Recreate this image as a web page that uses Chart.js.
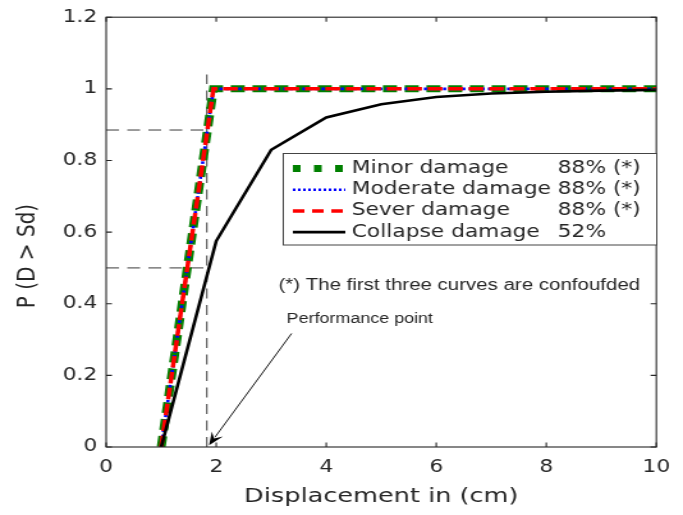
<!DOCTYPE html>
<html>
<head>
<meta charset="utf-8">
<script src="https://cdn.jsdelivr.net/npm/chart.js@4.4.0/dist/chart.umd.min.js"></script>
<style>
  html, body { margin: 0; padding: 0; background: #fff; overflow: hidden; }
  /* the figure is drawn narrow and widened, like the exported plot */
  #wrap { width: 534px; height: 515px; transform: scaleX(1.279); transform-origin: 0 0; }
</style>
</head>
<body>
<div id="wrap"><canvas id="fragility"></canvas></div>
<script>
// fragility curves: probability of exceeding each damage state vs displacement
const damageX = [1, 1.95, 10];
const minorP = [0, 1, 1];
const moderateP = [0, 1, 1];
const severP = [0, 1, 1];
const collapseX = [1, 2, 3, 4, 5, 6, 7, 8, 9, 10];
const collapseP = [0, 0.575, 0.83, 0.92, 0.957, 0.977, 0.987, 0.992, 0.995, 0.997];

// performance point read-off lines
const perfPoint = 1.83;
const perfLevels = [0.885, 0.5];
const perfTop = 1.04;

const legendNames = ['Minor damage', 'Moderate damage', 'Sever damage', 'Collapse damage'];
const legendValues = ['88% (*)', '88% (*)', '88% (*)', '52%'];

const xTicks = [0, 2, 4, 6, 8, 10];
const yTicks = [0, 0.2, 0.4, 0.6, 0.8, 1, 1.2];
const xLabel = 'Displacement in (cm)';
const yLabel = 'P (D > Sd)';
const noteText = '(*) The first three curves are confoufded';
const arrowText = 'Performance point';
const arrowFrom = { x: 3.37, y: 0.317 };
const arrowTo = { x: 1.87, y: 0.005 };

const axisColor = '#262626';

function pts(xs, ys) {
  return xs.map((x, i) => ({ x: x, y: ys[i] }));
}

const guideStyle = {
  borderColor: '#3a3a3a',
  borderWidth: 1,
  borderDash: [10, 6.5],
  pointRadius: 0,
  order: 5
};

const datasets = [
  { label: legendNames[0], data: pts(damageX, minorP), borderColor: '#008000', borderWidth: 7,
    borderDash: [11, 6], legendDash: [6, 10.5], pointRadius: 0, order: 4 },
  { label: legendNames[1], data: pts(damageX, moderateP), borderColor: '#0000ff', borderWidth: 2.6,
    borderDash: [2.5, 2.5], legendDash: [2, 2], pointRadius: 0, order: 3 },
  { label: legendNames[2], data: pts(damageX, severP), borderColor: '#ff0000', borderWidth: 3.5,
    borderDash: [11.5, 4.5], legendDash: [9, 6], pointRadius: 0, order: 2 },
  { label: legendNames[3], data: pts(collapseX, collapseP), borderColor: '#000000', borderWidth: 2.6,
    borderDash: [], pointRadius: 0, order: 1 },
  Object.assign({ label: 'guide1', data: [{ x: 0, y: perfLevels[0] }, { x: perfPoint, y: perfLevels[0] }] }, guideStyle),
  Object.assign({ label: 'guide2', data: [{ x: 0, y: perfLevels[1] }, { x: perfPoint, y: perfLevels[1] }] }, guideStyle),
  Object.assign({ label: 'guide3', data: [{ x: perfPoint, y: 0 }, { x: perfPoint, y: perfTop }] }, guideStyle)
];

// box around the axes with inward ticks on all four sides, plus the y title
const framePlugin = {
  id: 'frame',
  afterDatasetsDraw(chart) {
    const { ctx, chartArea: a, scales } = chart;
    const len = 4.5;
    ctx.save();
    ctx.strokeStyle = axisColor;
    ctx.lineWidth = 1.1;
    ctx.strokeRect(a.left, a.top, a.right - a.left, a.bottom - a.top);
    ctx.beginPath();
    xTicks.forEach(v => {
      const px = scales.x.getPixelForValue(v);
      ctx.moveTo(px, a.bottom); ctx.lineTo(px, a.bottom - len);
      ctx.moveTo(px, a.top); ctx.lineTo(px, a.top + len);
    });
    yTicks.forEach(v => {
      const py = scales.y.getPixelForValue(v);
      ctx.moveTo(a.left, py); ctx.lineTo(a.left + len, py);
      ctx.moveTo(a.right, py); ctx.lineTo(a.right - len, py);
    });
    ctx.stroke();

    ctx.translate(22, 256);
    ctx.rotate(-Math.PI / 2);
    ctx.fillStyle = axisColor;
    ctx.font = '20px "DejaVu Sans"';
    ctx.textAlign = 'center';
    ctx.textBaseline = 'middle';
    ctx.fillText(yLabel, 0, 0);
    ctx.restore();
  }
};

// note text and the arrow pointing at the performance point
const notePlugin = {
  id: 'notes',
  afterDraw(chart) {
    const { ctx, scales } = chart;
    const sx = v => scales.x.getPixelForValue(v);
    const sy = v => scales.y.getPixelForValue(v);
    ctx.save();
    ctx.fillStyle = axisColor;
    ctx.textBaseline = 'middle';
    ctx.font = '16px "Liberation Sans"';
    ctx.fillText(noteText, sx(3.13), sy(0.45));
    ctx.font = '14px "Liberation Sans"';
    ctx.fillText(arrowText, sx(3.28), sy(0.358));

    const x0 = sx(arrowFrom.x), y0 = sy(arrowFrom.y);
    const x1 = sx(arrowTo.x), y1 = sy(arrowTo.y);
    const ang = Math.atan2(y1 - y0, x1 - x0);
    const head = 13, half = 5;
    const c = Math.cos(ang), s = Math.sin(ang);
    ctx.strokeStyle = '#000';
    ctx.lineWidth = 0.9;
    ctx.beginPath();
    ctx.moveTo(x0, y0);
    ctx.lineTo(x1 - c * head * 0.7, y1 - s * head * 0.7);
    ctx.stroke();
    ctx.fillStyle = '#000';
    ctx.beginPath();
    ctx.moveTo(x1, y1);
    ctx.lineTo(x1 - c * head - s * half, y1 - s * head + c * half);
    ctx.lineTo(x1 - c * head * 0.6, y1 - s * head * 0.6);
    ctx.lineTo(x1 - c * head + s * half, y1 - s * head - c * half);
    ctx.closePath();
    ctx.fill();
    ctx.restore();
  }
};

// boxed legend inside the axes, with the percentages in their own column
const legendPlugin = {
  id: 'damageLegend',
  afterDraw(chart) {
    const ctx = chart.ctx;
    const box = { left: 221.5, top: 153.5, right: 513.5, bottom: 245 };
    ctx.save();
    ctx.fillStyle = '#fff';
    ctx.fillRect(box.left, box.top, box.right - box.left, box.bottom - box.top);
    ctx.strokeStyle = '#444';
    ctx.lineWidth = 1;
    ctx.strokeRect(box.left, box.top, box.right - box.left, box.bottom - box.top);
    ctx.font = '17px "DejaVu Sans"';
    ctx.textBaseline = 'middle';
    legendNames.forEach((name, i) => {
      const ds = chart.data.datasets[i];
      const y = box.top + 15 + i * 21.2;
      ctx.save();
      ctx.strokeStyle = ds.borderColor;
      ctx.lineWidth = ds.borderWidth;
      ctx.setLineDash(ds.legendDash || ds.borderDash || []);
      ctx.beginPath();
      ctx.moveTo(229, y);
      ctx.lineTo(270, y);
      ctx.stroke();
      ctx.restore();
      ctx.fillStyle = axisColor;
      ctx.fillText(name, 275, y);
      ctx.fillText(legendValues[i], 436, y);
    });
    ctx.restore();
  }
};

const tickFont = { family: 'DejaVu Sans', size: 17 };

new Chart(document.getElementById('fragility'), {
  type: 'line',
  data: { datasets: datasets },
  options: {
    responsive: true,
    maintainAspectRatio: false,
    animation: false,
    layout: { padding: { top: 14, right: 12.5, left: 0, bottom: 0 } },
    elements: { line: { tension: 0, borderCapStyle: 'butt', fill: false } },
    plugins: { legend: { display: false }, tooltip: { enabled: false } },
    scales: {
      x: {
        type: 'linear', min: 0, max: 10,
        grid: { display: false, drawTicks: false },
        border: { display: false },
        afterBuildTicks: s => { s.ticks = xTicks.map(v => ({ value: v })); },
        afterFit: s => { s.height = 68; },
        ticks: { color: axisColor, padding: 10, maxRotation: 0, autoSkip: false, font: tickFont,
                 callback: v => String(v) },
        title: { display: true, text: xLabel, color: axisColor, padding: { bottom: 6 },
                 font: { family: 'DejaVu Sans', size: 20 } }
      },
      y: {
        type: 'linear', min: 0, max: 1.2,
        grid: { display: false, drawTicks: false },
        border: { display: false },
        afterBuildTicks: s => { s.ticks = yTicks.map(v => ({ value: v })); },
        afterFit: s => { s.width = 83; },
        ticks: { color: axisColor, padding: 7, autoSkip: false, font: tickFont,
                 callback: v => String(Number(v.toFixed(1))) }
      }
    }
  },
  plugins: [framePlugin, notePlugin, legendPlugin]
});
</script>
</body>
</html>
